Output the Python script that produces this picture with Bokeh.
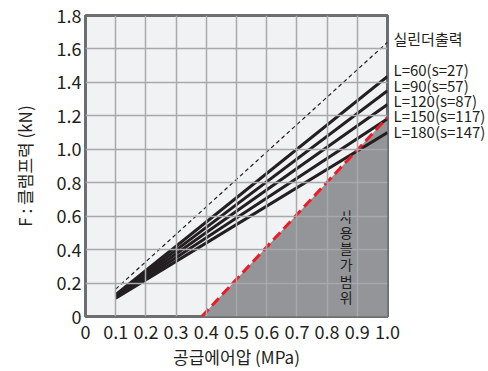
from bokeh.plotting import figure
from bokeh.models import FixedTicker, Range1d, LinearAxis
from bokeh.core.properties import value
from bokeh.embed import file_html
from bokeh.resources import INLINE

# Supply pressure (MPa) and clamp force (kN)
pressure = [0.1, 1.0]
cylinder_force = [0.164, 1.64]
arm_labels = ["L=60(s=27)", "L=90(s=57)", "L=120(s=87)", "L=150(s=117)", "L=180(s=147)"]
arm_force_start = [0.130, 0.125, 0.120, 0.115, 0.110]
arm_force_end = [1.435, 1.350, 1.268, 1.182, 1.100]

# Boundary of the unusable range
limit_pressure = [0.385, 1.0]
limit_force = [0.0, 1.19]
region_label = "사용불가범위"

x_ticks = [0, 0.1, 0.2, 0.3, 0.4, 0.5, 0.6, 0.7, 0.8, 0.9, 1.0]
x_tick_labels = ["0", "0.1", "0.2", "0.3", "0.4", "0.5", "0.6", "0.7", "0.8", "0.9", "1.0"]
y_ticks = [0, 0.2, 0.4, 0.6, 0.8, 1.0, 1.2, 1.4, 1.6, 1.8]
y_tick_labels = ["0", "0.2", "0.4", "0.6", "0.8", "1.0", "1.2", "1.4", "1.6", "1.8"]

FONT = "Noto Sans CJK KR"
INK = "#231f20"
GRAY_FILL = "#939598"

p = figure(width=488, height=371, output_backend="svg", toolbar_location=None,
           x_range=Range1d(0, 1.0), y_range=Range1d(0, 1.8),
           min_border_left=85, min_border_right=100, min_border_top=15,
           min_border_bottom=54)

p.background_fill_color = "#f1f2f3"
p.border_fill_color = "white"
p.outline_line_color = "#6d6e71"
p.outline_line_width = 3

# unusable region below the limit line
p.patch([limit_pressure[0], limit_pressure[1], limit_pressure[1]],
        [limit_force[0], limit_force[1], 0.0],
        fill_color=GRAY_FILL, line_color=None, level="underlay")

for g in (p.xgrid, p.ygrid):
    g.grid_line_color = "#a7a9ac"
    g.grid_line_width = 1.5
    g.level = "glyph"
p.xgrid.ticker = FixedTicker(ticks=x_ticks)
p.ygrid.ticker = FixedTicker(ticks=y_ticks)


def style_axis(ax, size):
    ax.axis_line_color = None
    ax.major_tick_line_color = None
    ax.minor_tick_line_color = None
    ax.major_tick_out = 0
    ax.major_tick_in = 0
    ax.minor_tick_out = 0
    ax.minor_tick_in = 0
    ax.major_label_text_font = FONT
    ax.major_label_text_font_size = size
    ax.major_label_text_color = INK
    ax.axis_label_text_font = FONT
    ax.axis_label_text_font_size = "17px"
    ax.axis_label_text_font_style = "normal"
    ax.axis_label_text_color = INK


for ax, ticks, labels in ((p.xaxis[0], x_ticks, x_tick_labels),
                          (p.yaxis[0], y_ticks, y_tick_labels)):
    ax.ticker = FixedTicker(ticks=ticks)
    ax.major_label_overrides = {t: l for t, l in zip(ticks, labels)}
    style_axis(ax, "18px")

p.xaxis.axis_label = "공급에어압 (MPa)"
p.xaxis.major_label_standoff = 8
p.xaxis.axis_label_standoff = 2
p.yaxis.axis_label = "F : 클램프력 (kN)"
p.yaxis.major_label_standoff = 4
p.yaxis.axis_label_standoff = 17

# theoretical cylinder output
p.line(pressure, cylinder_force, line_color=INK, line_width=1.2, line_dash="4 3")

# clamp force for each arm length
for f0, f1 in zip(arm_force_start, arm_force_end):
    p.line(pressure, [f0, f1], line_color=INK, line_width=3)

p.line(limit_pressure, limit_force, line_color="#ed1c24", line_width=3, line_dash="10 5")

# vertical caption inside the grey region, one character per row
chars = list(region_label)
pitch = 0.097
mid = 0.36
char_y = [mid + pitch * ((len(chars) - 1) / 2 - i) for i in range(len(chars))]
p.text(x=[0.863] * len(chars), y=char_y, text=chars,
       text_font=value(FONT), text_font_size="14px", text_color=INK,
       text_align="center", text_baseline="middle")

# captions at the right edge, placed on the force scale through a label-only axis
step = 0.092
n = len(arm_labels)
caption_y = [round(cylinder_force[1] + 0.022, 3)] + [
    round(arm_force_end[-1] + 0.008 + step * (n - 1 - i), 3) for i in range(n)]
caption_text = ["실린더출력"] + arm_labels
captions = LinearAxis(ticker=FixedTicker(ticks=caption_y),
                      major_label_overrides={y: t for y, t in zip(caption_y, caption_text)})
style_axis(captions, "15px")
captions.major_label_standoff = 6
p.add_layout(captions, "right")

open("out.html", "w").write(file_html(p, INLINE))
